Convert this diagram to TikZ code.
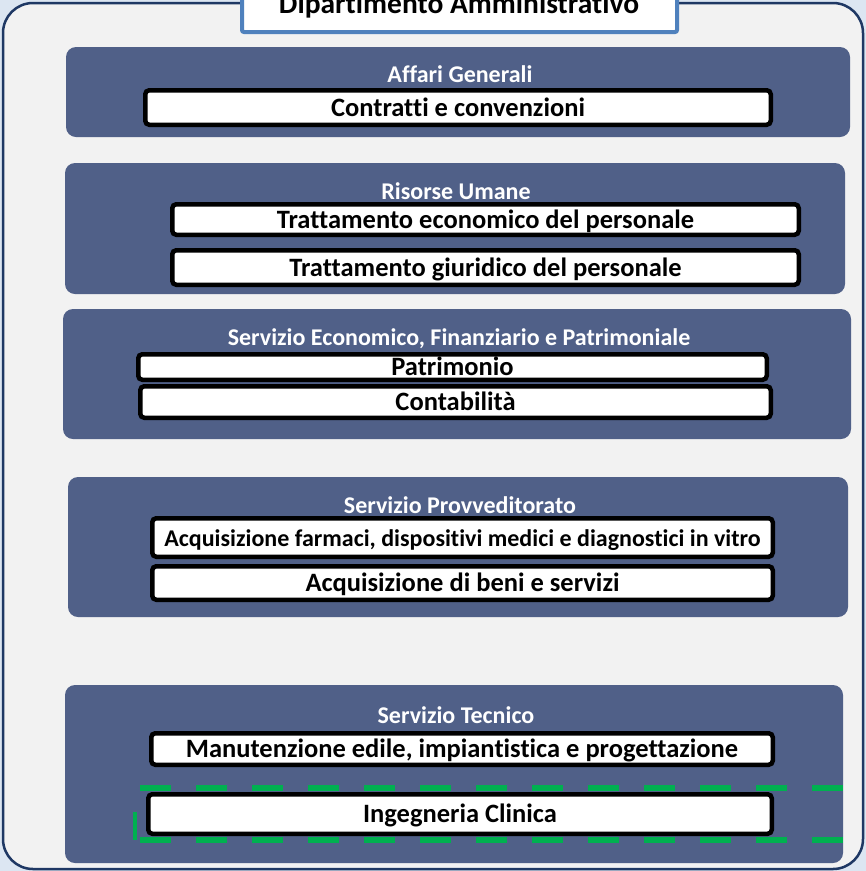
\documentclass[tikz,border=0pt]{standalone}
\usepackage{fontspec}
\setmainfont{Carlito}[Ligatures=NoCommon]
\usetikzlibrary{positioning}
\definecolor{outerblue}{RGB}{220,230,242}
\definecolor{framegray}{RGB}{242,242,242}
\definecolor{frameblue}{RGB}{31,56,100}
\definecolor{titleblue}{RGB}{79,129,189}
\definecolor{panelblue}{RGB}{80,96,136}
\definecolor{dashgreen}{RGB}{0,176,80}
\tikzstyle{frame}=[
	draw=frameblue,
	line width=2.5pt,
	fill=framegray,
	rounded corners=30pt
]
\tikzstyle{titlebox}=[
	rectangle,
	draw=titleblue,
	line width=4pt,
	fill=white,
	rounded corners=2pt,
	inner sep=0pt
]
\tikzstyle{titletext}=[
	inner sep=0pt,
	font=\bfseries\fontsize{29.5}{33}\selectfont
]
\tikzstyle{panel}=[
	rectangle,
	fill=panelblue,
	rounded corners=10pt,
	inner sep=0pt
]
\tikzstyle{unit}=[
	inner sep=0pt,
	text=white,
	font=\bfseries\fontsize{24}{28}\selectfont
]
\tikzstyle{office}=[
	rectangle,
	draw=black,
	line width=4.5pt,
	fill=white,
	rounded corners=4pt,
	inner sep=0pt,
	text height=17.5pt,
	text depth=0pt,
	font=\bfseries\fontsize{26.5}{30}\selectfont
]
\tikzstyle{highlight}=[
	draw=dashgreen,
	line width=6.5pt,
	dash pattern=on 31pt off 25pt
]

\begin{document}
\begin{tikzpicture}[x=1pt,y=-1pt]
\useasboundingbox (0,0) rectangle (866,871);
\fill[outerblue] (0,0) rectangle (866,871);
\draw[frame] (3,3) rectangle (863,869);

% title
\node [titlebox, minimum width=435pt, minimum height=48pt] (dipbox) at (459.5,8) {};
\node [titletext, anchor=base] (dip) at (459,13) {Dipartimento Amministrativo};

% Affari Generali
\node [panel, minimum width=784pt, minimum height=90pt] (affari) at (458,92) {};
\node [unit, anchor=base] (affarilabel) at (460,82) {Affari Generali};
\node [office, minimum width=625.5pt, minimum height=34.5pt] (contratti) at (458,107.5) {Contratti e convenzioni};

% Risorse Umane
\node [panel, minimum width=780pt, minimum height=131pt] (risorse) at (455,228.5) {};
\node [unit, anchor=base] (risorselabel) at (456,199) {Risorse Umane};
\node [office, minimum width=626.5pt, minimum height=30.5pt] (economico) at (485.5,219.5) {Trattamento economico del personale};
\node [office, minimum width=626.5pt, minimum height=34.5pt] (giuridico) [below=11pt of economico] {Trattamento giuridico del personale};

% Servizio Economico, Finanziario e Patrimoniale
\node [panel, minimum width=788pt, minimum height=130pt] (finanza) at (457,374) {};
\node [unit, anchor=base] (finanzalabel) at (459,345) {Servizio Economico, Finanziario e Patrimoniale};
\node [office, minimum width=628.5pt, minimum height=25.5pt] (patrimonio) at (452.5,367) {Patrimonio};
\node [office, minimum width=630.5pt, minimum height=31.5pt] (contabilita) [below=2pt of patrimonio, xshift=3pt] {Contabilità};

% Servizio Provveditorato
\node [panel, minimum width=780pt, minimum height=140pt] (provv) at (458,547) {};
\node [unit, anchor=base] (provvlabel) at (460,513) {Servizio Provveditorato};
\node [office, minimum width=620.5pt, minimum height=38.5pt, font=\bfseries\fontsize{24}{28}\selectfont] (farmaci) at (462.5,537.5) {Acquisizione farmaci, dispositivi medici e diagnostici in vitro};
\node [office, minimum width=620.5pt, minimum height=33.5pt] (beni) [below=5pt of farmaci] {Acquisizione di beni e servizi};

% Servizio Tecnico
\node [panel, minimum width=778pt, minimum height=178pt] (tecnico) at (454,774) {};
\node [unit, anchor=base] (tecnicolabel) at (456,723) {Servizio Tecnico};
\node [office, minimum width=621.5pt, minimum height=31.5pt] (manutenzione) at (462,749) {Manutenzione edile, impiantistica e progettazione};
\node [office, minimum width=623.5pt, minimum height=39.5pt] (clinica) [below=25pt of manutenzione, xshift=-2pt] {Ingegneria Clinica};

% green dashed mark
\draw [highlight] (140,788) -- (846,788) (140,840) -- (846,840);
\draw [dashgreen, line width=4pt] (135,812) -- (135,840);
\end{tikzpicture}
\end{document}
